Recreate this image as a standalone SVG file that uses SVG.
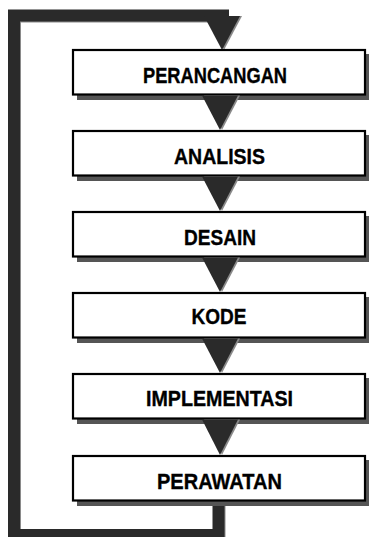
<svg xmlns="http://www.w3.org/2000/svg" width="369" height="537" viewBox="0 0 369 537">
<defs>
<style>
.box{fill:#fff;stroke:#000;stroke-width:2.2}
.shadow{fill:#555}
.tri{fill:#2a2a2a}
.trish{fill:#8a8a8a}
.lbl{font-family:"Liberation Sans",Arial,sans-serif;font-weight:bold;font-size:22px;fill:#000;stroke:#000;stroke-width:0.35;text-anchor:middle}
.loop{fill:none;stroke:#2a2a2a;stroke-width:12;stroke-linejoin:miter}
.loopsh{fill:none;stroke:#8a8a8a;stroke-width:12;stroke-linejoin:miter}
</style>
</defs>
<rect width="369" height="537" fill="#fff"/>
<g id="connectors">
<polyline class="loopsh" points="219.5,500 219.5,536 15,536 15,16.5 229,16.5"/>
<polyline class="loop" points="218.5,500 218.5,535 14,535 14,15.5 229,15.5"/>
<polygon class="trish" points="206,16 242,16 224,50"/>
<polygon class="tri" points="204,16 240,16 222,50"/>
</g>
<g id="n1">
<rect class="shadow" x="77" y="54" width="294" height="46"/>
<rect class="box" x="73" y="50" width="292" height="44.5"/>
<text class="lbl" x="215" y="82.5" textLength="144" lengthAdjust="spacingAndGlyphs">PERANCANGAN</text>
</g>
<g id="n2">
<rect class="shadow" x="77" y="135" width="294" height="46"/>
<rect class="box" x="73" y="131" width="292" height="44.5"/>
<text class="lbl" x="219.5" y="163.5" textLength="91" lengthAdjust="spacingAndGlyphs">ANALISIS</text>
</g>
<g id="n3">
<rect class="shadow" x="77" y="216" width="294" height="46"/>
<rect class="box" x="73" y="212" width="292" height="44.5"/>
<text class="lbl" x="220" y="244.5" textLength="72" lengthAdjust="spacingAndGlyphs">DESAIN</text>
</g>
<g id="n4">
<rect class="shadow" x="77" y="297" width="294" height="46"/>
<rect class="box" x="73" y="293" width="292" height="44.5"/>
<text class="lbl" x="219" y="324" textLength="55" lengthAdjust="spacingAndGlyphs">KODE</text>
</g>
<g id="n5">
<rect class="shadow" x="77" y="378" width="294" height="46"/>
<rect class="box" x="73" y="374" width="292" height="44.5"/>
<text class="lbl" x="219.5" y="405.5" textLength="147" lengthAdjust="spacingAndGlyphs">IMPLEMENTASI</text>
</g>
<g id="n6">
<rect class="shadow" x="77" y="460" width="294" height="46"/>
<rect class="box" x="73" y="456" width="292" height="44.5"/>
<text class="lbl" x="219.5" y="488.5" textLength="125" lengthAdjust="spacingAndGlyphs">PERAWATAN</text>
</g>
<g id="arrows">
<polygon class="trish" points="204,95.5 240,95.5 222,130"/>
<polygon class="tri" points="202,95.5 238,95.5 220,130"/>
<polygon class="trish" points="204,176.5 240,176.5 222,211"/>
<polygon class="tri" points="202,176.5 238,176.5 220,211"/>
<polygon class="trish" points="204,257.5 240,257.5 222,292"/>
<polygon class="tri" points="202,257.5 238,257.5 220,292"/>
<polygon class="trish" points="204,338.5 240,338.5 222,373"/>
<polygon class="tri" points="202,338.5 238,338.5 220,373"/>
<polygon class="trish" points="204,419.5 240,419.5 222,455"/>
<polygon class="tri" points="202,419.5 238,419.5 220,455"/>
</g>
</svg>
